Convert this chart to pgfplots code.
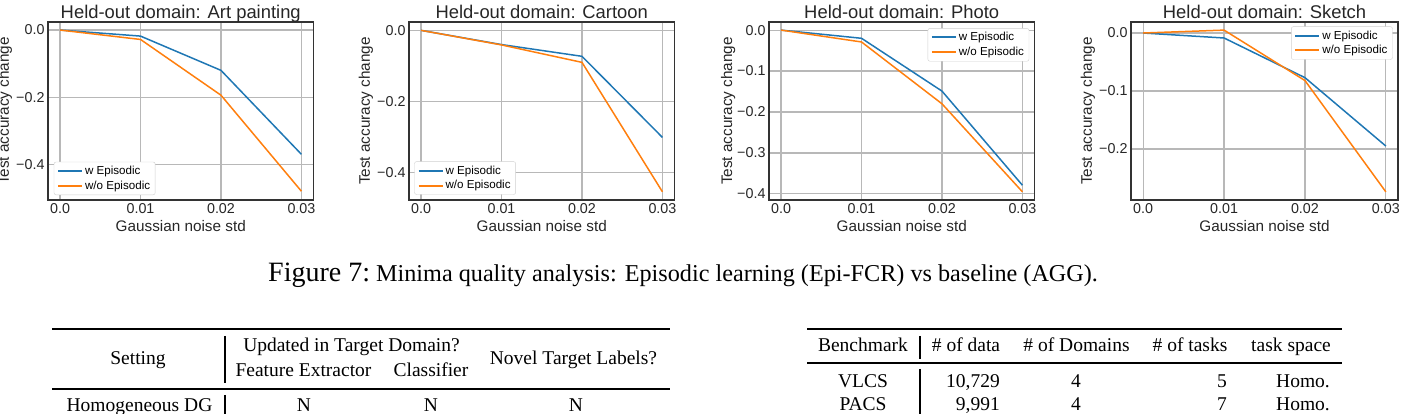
\documentclass[border=0pt]{standalone}
\usepackage{fontspec}
\setmainfont{Liberation Sans}
\newfontfamily\serif{Liberation Serif}
\usepackage{pgfplots}
\pgfplotsset{compat=1.18}
\definecolor{cblue}{HTML}{1F77B4}
\definecolor{corange}{HTML}{FF7F0E}
\definecolor{gridgray}{HTML}{B8B8B8}
\definecolor{spine}{HTML}{333333}
\definecolor{tickc}{HTML}{262626}
\definecolor{legc}{HTML}{D0D0D0}
\pgfplotsset{
  every axis title/.style={font=\fontsize{18.4}{20}\selectfont, text=tickc, at={(axis description cs:0.5,1.021)}, anchor=base},
  legend image code/.code={\draw[#1, line width=2pt] (0pt,0pt) -- (24pt,0pt);},
  mystyle/.style={
    scale only axis, width=265.5pt, height=178pt,
    xmin=-0.0015, xmax=0.0315,
    scaled x ticks=false, scaled y ticks=false,
    xtick={0,0.01,0.02,0.03}, xticklabels={0.0,0.01,0.02,0.03},
    grid=major, major grid style={draw=gridgray, line width=1.2pt},
    axis line style={draw=spine, line width=1.6pt},
    major tick length=0pt, tick style={draw=none},
    ticklabel style={font=\fontsize{14.3}{16}\selectfont, text=tickc},
    /pgf/number format/assume math mode=true,
    xlabel style={font=\fontsize{15.3}{17}\selectfont, text=tickc, at={(axis description cs:0.5,-0.178)}, anchor=base},
    ylabel style={font=\fontsize{15.3}{17}\selectfont, text=tickc, at={(axis description cs:-0.147,0.5)}, anchor=base},
    xlabel={Gaussian noise std}, ylabel={Test accuracy change},
    legend style={font=\fontsize{11.6}{13}\selectfont, draw=legc, rounded corners=2pt, fill=white, inner xsep=3pt, inner ysep=2pt, row sep=1pt},
    legend cell align=left,
    every axis plot/.append style={line width=1.5pt},
  }
}
\begin{document}
\begin{tikzpicture}
\path[use as bounding box, clip] (0,0) rectangle (1401pt,414pt);
% Plot 1
\begin{axis}[mystyle, at={(48pt,214pt)}, anchor=south west,
  title={Held-out domain: Art painting},
  ymin=-0.506, ymax=0.024, ytick={-0.4,-0.2,0}, yticklabels={−0.4,−0.2,0.0},
  legend style={at={(0.022,0.028)}, anchor=south west}]
\addplot[cblue] coordinates {(0,0) (0.01,-0.018) (0.02,-0.12) (0.03,-0.37)};
\addplot[corange] coordinates {(0,0) (0.01,-0.028) (0.02,-0.194) (0.03,-0.48)};
\legend{w Episodic, w/o Episodic}
\end{axis}
% Plot 2
\begin{axis}[mystyle, at={(409pt,214pt)}, anchor=south west,
  title={Held-out domain: Cartoon},
  ymin=-0.477, ymax=0.0235, ytick={-0.4,-0.2,0}, yticklabels={−0.4,−0.2,0.0},
  legend style={at={(0.02,0.03)}, anchor=south west}]
\addplot[cblue] coordinates {(0,0) (0.01,-0.04) (0.02,-0.073) (0.03,-0.301)};
\addplot[corange] coordinates {(0,0) (0.01,-0.041) (0.02,-0.09) (0.03,-0.454)};
\legend{w Episodic, w/o Episodic}
\end{axis}
% Plot 3
\begin{axis}[mystyle, at={(769pt,214pt)}, anchor=south west,
  title={Held-out domain: Photo},
  ymin=-0.415, ymax=0.0198, ytick={-0.4,-0.3,-0.2,-0.1,0}, yticklabels={−0.4,−0.3,−0.2,−0.1,0.0},
  ylabel style={at={(axis description cs:-0.139,0.5)}},
  legend style={at={(0.98,0.965)}, anchor=north east}]
\addplot[cblue] coordinates {(0,0) (0.01,-0.02) (0.02,-0.149) (0.03,-0.379)};
\addplot[corange] coordinates {(0,0) (0.01,-0.029) (0.02,-0.18) (0.03,-0.395)};
\legend{w Episodic, w/o Episodic}
\end{axis}
% Plot 4
\begin{axis}[mystyle, at={(1131pt,214pt)}, anchor=south west, width=267pt,
  title={Held-out domain: Sketch},
  ymin=-0.288, ymax=0.019, ytick={-0.2,-0.1,0}, yticklabels={−0.2,−0.1,0.0},
  legend style={at={(0.98,0.975)}, anchor=north east}]
\addplot[cblue] coordinates {(0,0) (0.01,-0.0086) (0.02,-0.077) (0.03,-0.195)};
\addplot[corange] coordinates {(0,0) (0.01,0.005) (0.02,-0.082) (0.03,-0.274)};
\legend{w Episodic, w/o Episodic}
\end{axis}
% Caption
\node[anchor=base west, inner sep=0pt, font=\serif] at (268pt,132pt) {{\fontsize{28}{30}\selectfont Figure 7:}\fontsize{24.2}{26}\selectfont\ Minima quality analysis: Episodic learning (Epi-FCR) vs baseline (AGG).};
% Left table
\begin{scope}[every node/.style={inner sep=0pt, font=\serif\fontsize{19.5}{21}\selectfont}]
\draw[line width=1.8pt] (52pt,85pt) -- (670pt,85pt);
\draw[line width=1.2pt] (52pt,25pt) -- (670pt,25pt);
\draw[line width=1.2pt] (225pt,78pt) -- (225pt,31pt);
\draw[line width=1.2pt] (225pt,19pt) -- (225pt,-2pt);
\node[anchor=base] at (138pt,49pt) {Setting};
\node[anchor=base] at (351.5pt,62pt) {Updated in Target Domain?};
\node[anchor=base] at (303.5pt,37pt) {Feature Extractor};
\node[anchor=base] at (431pt,37pt) {Classifier};
\node[anchor=base] at (573.5pt,49pt) {Novel Target Labels?};
\node[anchor=base] at (139.5pt,2pt) {Homogeneous DG};
\node[anchor=base] at (304pt,2pt) {N};
\node[anchor=base] at (431pt,2pt) {N};
\node[anchor=base] at (576pt,2pt) {N};
% Right table
\draw[line width=1.8pt] (807pt,85pt) -- (1342pt,85pt);
\draw[line width=1.2pt] (807pt,51pt) -- (1342pt,51pt);
\draw[line width=1.2pt] (920pt,78pt) -- (920pt,55pt);
\draw[line width=1.2pt] (920pt,45pt) -- (920pt,-2pt);
\node[anchor=base] at (863pt,62pt) {Benchmark};
\node[anchor=base] at (966pt,62pt) {\# of data};
\node[anchor=base] at (1076.5pt,62pt) {\# of Domains};
\node[anchor=base] at (1190pt,62pt) {\# of tasks};
\node[anchor=base] at (1291pt,62pt) {task space};
\node[anchor=base] at (863pt,26pt) {VLCS};
\node[anchor=base] at (863pt,3.5pt) {PACS};
\node[anchor=base east] at (1000pt,26pt) {10,729};
\node[anchor=base east] at (1000pt,3.5pt) {9,991};
\node[anchor=base] at (1076pt,26pt) {4};
\node[anchor=base] at (1076pt,3.5pt) {4};
\node[anchor=base east] at (1227pt,26pt) {5};
\node[anchor=base east] at (1227pt,3.5pt) {7};
\node[anchor=base east] at (1330pt,26pt) {Homo.};
\node[anchor=base east] at (1330pt,3.5pt) {Homo.};
\end{scope}
\end{tikzpicture}
\end{document}
